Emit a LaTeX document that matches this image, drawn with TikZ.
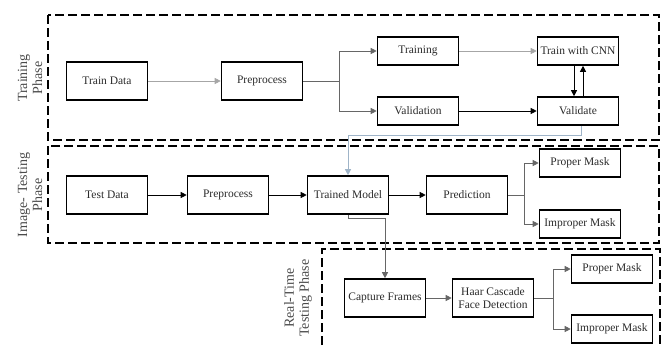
\documentclass[tikz,border=0pt]{standalone}
\usepackage{fontspec}
\setmainfont{Liberation Serif}
\usetikzlibrary{arrows.meta,calc}
\definecolor{txt}{HTML}{2A2A2A}
\definecolor{lblue}{HTML}{9FB4C8}
\begin{document}
\begin{tikzpicture}[x=1pt,y=-1pt,
  box/.style={draw=black,line width=1.6pt,minimum width=81pt,minimum height=38pt,inner sep=1pt,font=\fontsize{11.5}{12.5}\selectfont,text=txt,align=center},
  sbox/.style={box,minimum height=28pt},
  phase/.style={draw=black,line width=1.8pt,dash pattern=on 9pt off 4pt},
  plabel/.style={rotate=90,align=center,font=\fontsize{14}{15}\selectfont,text=txt!85},
  tip/.style={-{Triangle[length=6pt,width=6pt]}},
  cblack/.style={tip,draw=black,line width=0.8pt},
  cgray/.style={tip,draw=black!60,line width=0.7pt},
  clight/.style={tip,draw=black!35,line width=0.6pt},
]
\useasboundingbox (0,0) rectangle (668,345);
% phase frames
\draw[phase] (48,15) rectangle (659,140);
\draw[phase] (48,146) rectangle (659,243);
\draw[phase] (322,345) -- (322,249) -- (660,249) -- (660,345);
% phase labels
\node[plabel] (lt) at (30,78) {Training\\Phase};
\node[plabel] (li) at (30,195) {Image- Testing\\Phase};
\node[plabel] (lr) at (298,298) {Real-Time\\Testing Phase};
% training phase
\node[box] (td) at (107,81) {Train Data};
\node[box] (pp1) at (262,81) {Preprocess};
\node[sbox] (trn) at (418,51) {Training};
\node[sbox] (val) at (418,111) {Validation};
\node[sbox] (cnn) at (578,51) {Train with CNN};
\node[sbox] (vdt) at (578,111) {Validate};
% image testing
\node[box] (tsd) at (107,195) {Test Data};
\node[box] (pp2) at (228,195) {Preprocess};
\node[box] (tm) at (348,195) {Trained Model};
\node[box] (pred) at (467,195) {Prediction};
\node[sbox] (pm1) at (580,163) {Proper Mask};
\node[sbox] (im1) at (580,224) {Improper Mask};
% real time
\node[box] (cap) at (385,298) {Capture Frames};
\node[box] (haar) at (493,298) {Haar Cascade\\Face Detection};
\node[sbox] (pm2) at (612,269) {Proper Mask};
\node[sbox] (im2) at (612,329) {Improper Mask};
% connectors training
\draw[clight] (td) -- (pp1);
\coordinate (s1) at (339,81);
\draw[draw=black!60,line width=0.7pt] (pp1.east) -- (s1);
\draw[cgray] (s1) |- (trn.west);
\draw[cgray] (s1) |- (val.west);
\draw[clight] (trn) -- (cnn);
\draw[cblack] (val) -- (vdt);
\draw[cblack] ([xshift=-4pt]cnn.south) -- ([xshift=-4pt]vdt.north);
\draw[cblack] ([xshift=5pt]vdt.north) -- ([xshift=5pt]cnn.south);
\draw[tip,draw=lblue,line width=0.7pt] ([xshift=3pt]vdt.south) -- ++(0,10) -| (tm.north);
% connectors image testing
\draw[cblack] (tsd) -- (pp2);
\draw[cblack] (pp2) -- (tm);
\draw[cblack] (tm) -- (pred);
\coordinate (s2) at (524,195);
\draw[draw=black!60,line width=0.7pt] (pred.east) -- (s2);
\draw[cgray] (s2) |- (pm1.west);
\draw[cgray] (s2) |- (im1.west);
\draw[cgray] (tm.south) -- ++(0,4) -| (cap.north);
% connectors real time
\draw[cgray] (cap) -- (haar);
\coordinate (s3) at (553,298);
\draw[draw=black!60,line width=0.7pt] (haar.east) -- (s3);
\draw[cgray] (s3) |- (pm2.west);
\draw[cgray] (s3) |- (im2.west);
\end{tikzpicture}
\end{document}
